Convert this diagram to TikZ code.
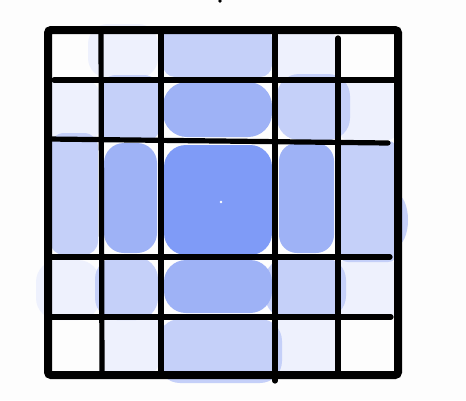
\documentclass[tikz,border=0pt]{standalone}
\definecolor{bgw}{RGB}{253,253,253}
\definecolor{shadeA}{RGB}{238,241,253}
\definecolor{shadeB}{RGB}{197,208,249}
\definecolor{shadeC}{RGB}{158,178,246}
\definecolor{shadeD}{RGB}{127,155,247}
\begin{document}
\begin{tikzpicture}[x=1pt,y=-1pt,
  lightest/.style={fill=shadeA,rounded corners=#1},
  lightest/.default=14pt,
  light/.style={fill=shadeB,rounded corners=#1},
  light/.default=14pt,
  medium/.style={fill=shadeC,rounded corners=#1},
  medium/.default=20pt,
  dark/.style={fill=shadeD,rounded corners=#1},
  dark/.default=22pt,
  frame/.style={line width=8pt,rounded corners=3pt,draw=black},
  gridline/.style={line width=5.2pt,line cap=round,draw=black}]
\fill[bgw] (0,0) rectangle (466,400);
\useasboundingbox (0,0) rectangle (466,400);
% ---- lightest blobs
\path[lightest=20pt] (88,24) rectangle (158,78);
\path[lightest=6pt] (277,33) rectangle (336,78);
\path[lightest=16pt] (44,80) rectangle (100,142);
\path[lightest=8pt] (340,82) rectangle (396,140);
\path[lightest=22pt] (36,260) rectangle (100,320);
\path[lightest=8pt] (338,260) rectangle (396,318);
\path[lightest=16pt] (100,312) rectangle (160,375);
\path[lightest=6pt] (277,318) rectangle (336,375);
% ---- light blobs
\path[light=12pt] (163,26) rectangle (272,77);
\path[light=16pt] (100,75) rectangle (160,142);
\path[light=22pt] (277,74) rectangle (350,140);
\path[light=14pt] (50,133) rectangle (98,255);
\path[light=10pt] (338,141) rectangle (398,262);
\fill[shadeB] (396,220) ellipse (12 and 26);
\path[light=22pt] (95,257) rectangle (158,320);
\path[light=22pt] (265,258) rectangle (346,318);
\path[light=22pt] (158,319) rectangle (282,383);
% ---- medium blobs
\path[medium=24pt] (163,82) rectangle (272,137);
\path[medium=10pt] (180,80) rectangle (205,88);
\path[medium=20pt] (104,143) rectangle (157,253);
\path[medium=18pt] (279,143) rectangle (334,253);
\path[medium=22pt] (164,260) rectangle (272,313);
% ---- dark blob
\path[dark] (164,145) rectangle (272,255);
\fill[white] (221,202) circle (1.4);
% ---- grid
\draw[gridline] (101,30) -- (102,375);
\draw[gridline] (161,30) -- (161,375);
\draw[gridline] (275,30) -- (275,381);
\draw[gridline] (338,38) -- (338,375);
\draw[gridline] (54,80) -- (398,80);
\draw[gridline] (48,139) -- (388,143);
\draw[gridline] (48,257) -- (390,257);
\draw[gridline] (48,317) -- (391,317);
\draw[frame] (48,30) rectangle (398,375);
\fill[black] (220,1) circle (1.8);
\end{tikzpicture}
\end{document}
